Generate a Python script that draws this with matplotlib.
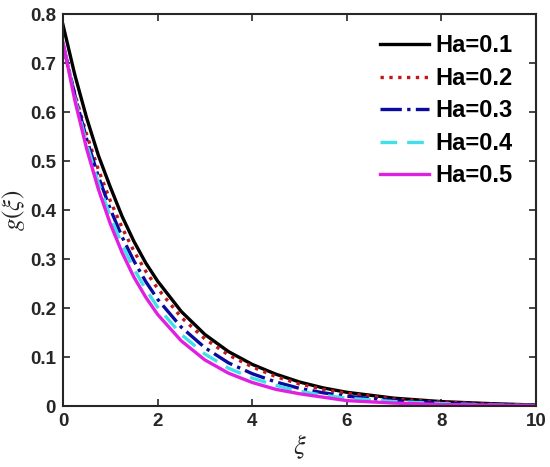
import matplotlib
matplotlib.use("Agg")
import matplotlib.pyplot as plt

xi = [0, 0.25, 0.5, 0.75, 1, 1.25, 1.5, 1.75, 2, 2.5, 3, 3.5, 4, 4.5, 5, 5.5, 6, 7, 8, 9, 10]

g_ha01 = [0.778, 0.676, 0.588, 0.511, 0.447, 0.387, 0.336, 0.292, 0.255, 0.193, 0.146, 0.111,
          0.085, 0.065, 0.049, 0.037, 0.028, 0.016, 0.009, 0.005, 0.002]
g_ha02 = [0.733, 0.637, 0.554, 0.482, 0.419, 0.364, 0.316, 0.275, 0.240, 0.181, 0.137, 0.104,
          0.080, 0.060, 0.045, 0.034, 0.026, 0.014, 0.008, 0.004, 0.001]
g_ha03 = [0.740, 0.635, 0.545, 0.468, 0.402, 0.345, 0.296, 0.254, 0.218, 0.161, 0.119, 0.088,
          0.066, 0.049, 0.036, 0.027, 0.020, 0.011, 0.006, 0.003, 0.001]
g_ha04 = [0.740, 0.629, 0.535, 0.455, 0.387, 0.329, 0.280, 0.238, 0.202, 0.146, 0.106, 0.077,
          0.057, 0.042, 0.030, 0.022, 0.016, 0.009, 0.005, 0.002, 0.001]
g_ha05 = [0.742, 0.624, 0.525, 0.442, 0.372, 0.313, 0.263, 0.222, 0.187, 0.133, 0.094, 0.067,
          0.048, 0.034, 0.025, 0.018, 0.011, 0.006, 0.003, 0.002, 0.001]

labels = ["Ha=0.1", "Ha=0.2", "Ha=0.3", "Ha=0.4", "Ha=0.5"]
series = [g_ha01, g_ha02, g_ha03, g_ha04, g_ha05]
colors = ["#000000", "#C01818", "#0A0AA0", "#40E0E8", "#E020E0"]
styles = ["-", ":", "-.", (0, (5, 3)), "-"]

x_ticks = [0, 2, 4, 6, 8, 10]
y_ticks = [0, 0.1, 0.2, 0.3, 0.4, 0.5, 0.6, 0.7, 0.8]

plt.rcParams["mathtext.fontset"] = "stix"
plt.rcParams["font.family"] = ["Liberation Sans", "DejaVu Sans"]

fig = plt.figure(figsize=(5.5, 4.67), dpi=100)
ax = fig.add_axes([0.1145, 0.1306, 0.86, 0.8394])

for ys, lab, c, ls in zip(series, labels, colors, styles):
    ax.plot(xi, ys, color=c, linestyle=ls, linewidth=2.4, label=lab)

ax.set_xlim(0, 10)
ax.set_ylim(0, 0.8)
ax.set_xticks(x_ticks)
ax.set_yticks(y_ticks)
ax.set_xticklabels([str(v) for v in x_ticks])
ax.set_yticklabels(["0" if v == 0 else f"{v:g}" for v in y_ticks])
ax.tick_params(direction="in", top=True, right=True, length=5, width=1.2,
               labelsize=13.5, colors="#262626", pad=5)
for lab in ax.get_xticklabels() + ax.get_yticklabels():
    lab.set_fontweight("bold")
for sp in ax.spines.values():
    sp.set_linewidth(1.5)
    sp.set_color("#262626")

ax.set_xlabel(r"$\xi$", fontsize=19, color="#262626", labelpad=2)
ax.set_ylabel(r"$g(\xi)$", fontsize=18, color="#262626", labelpad=2)

leg = ax.legend(loc="upper right", frameon=False, fontsize=17, handlelength=2.1,
                handletextpad=0.25, labelspacing=0.4, borderaxespad=0.3,
                bbox_to_anchor=(0.985, 0.99))
for t in leg.get_texts():
    t.set_fontweight("bold")

fig.savefig("out.png", dpi=100)
